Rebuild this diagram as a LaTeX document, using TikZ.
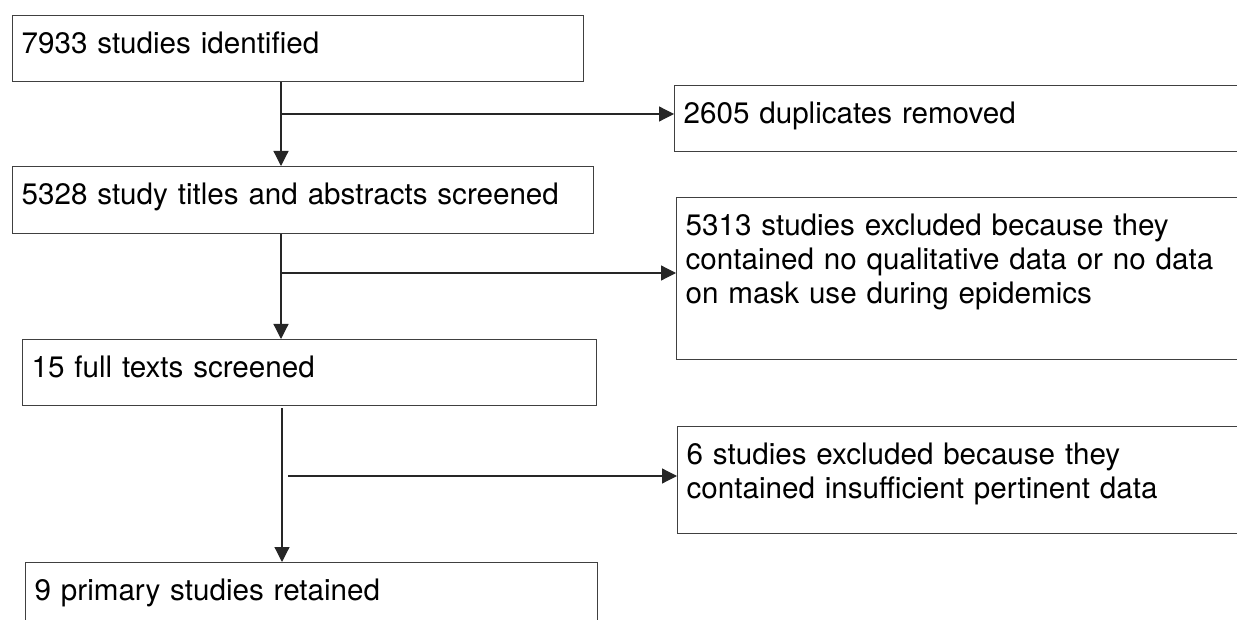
\documentclass[tikz,border=0pt]{standalone}
\usepackage{fontspec}
\setmainfont{TeX Gyre Heros}
\usetikzlibrary{arrows.meta,calc}

\begin{document}
\begin{tikzpicture}[x=1pt, y=-1pt, font=\fontsize{29.6}{34}\selectfont,
  >={Triangle[length=15pt,width=15pt]},
  box/.style={draw=black!75, line width=1.3pt, anchor=north west, align=left,
    inner xsep=9pt, inner ysep=0pt, text height=38pt},
  flow/.style={->, line width=1.2pt, black!85}]
  \path[use as bounding box, clip] (0,0) rectangle (1237,620);
  % main column
  \node[box, text width=553pt, text depth=28pt] (ident) at (12,15) {7933 studies identified};
  \node[box, text width=563pt, text depth=29pt] (screen) at (12,166) {5328 study titles and abstracts screened};
  \node[box, text width=556pt, text depth=28pt] (full) at (22,339) {15 full texts screened};
  \node[box, text width=554pt, text depth=28pt] (kept) at (25,562) {9 primary studies retained};
  % exclusions
  \node[box, text width=562pt, text depth=28pt] (dup) at (674,85) {2605 duplicates removed};
  \node[box, text width=562pt, text depth=124pt] (excl1) at (676,197)
    {5313 studies excluded because they\\ contained no qualitative data or no data\\ on mask use during epidemics};
  \node[box, text width=562pt, text depth=69pt] (excl2) at (677,426)
    {6 studies excluded because they\\ contained insufficient pertinent data};
  % connectors
  \coordinate (t1) at (281,114);
  \draw[flow] (ident.south -| t1) -- (screen.north -| t1);
  \draw[flow] (t1) -- (t1 -| dup.west);
  \coordinate (t2) at (281,273);
  \draw[flow] (screen.south -| t2) -- (full.north -| t2);
  \draw[flow] (t2) -- (t2 -| excl1.west);
  \coordinate (t3) at (282,476);
  \draw[flow] ($(full.south -| t3)+(0,2)$) -- (kept.north -| t3);
  \draw[flow] ($(t3)+(6,0)$) -- (t3 -| excl2.west);
\end{tikzpicture}
\end{document}
